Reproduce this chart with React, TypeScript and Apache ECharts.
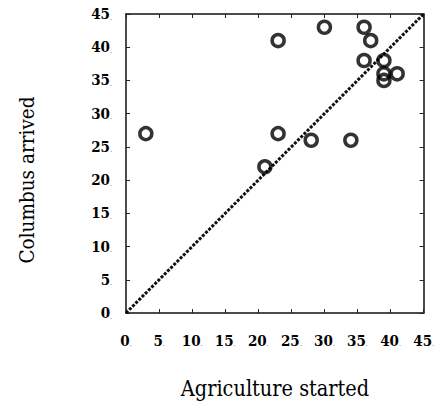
import React, { useEffect, useRef } from "react";
import * as echarts from "echarts";

const agricultureStarted = [3, 21, 23, 23, 28, 30, 34, 36, 37, 36, 39, 39, 39, 41];
const columbusArrived = [27, 22, 41, 27, 26, 43, 26, 43, 41, 38, 38, 36, 35, 36];
const axisMin = 0;
const axisMax = 45;
const axisStep = 5;
const xTitle = "Agriculture started";
const yTitle = "Columbus arrived";

export default function App() {
  const ref = useRef<HTMLDivElement>(null);
  useEffect(() => {
    if (!ref.current) return;
    const chart = echarts.init(ref.current, null, { renderer: "svg" });
    const font = "'DejaVu Serif Condensed', 'DejaVu Serif'";
    const fmt = (v: number) => `{n|${v}}{d|.}`;
    const rich = {
      n: { fontFamily: font, fontWeight: "bold", fontSize: 15, color: "#000" },
      d: { fontFamily: font, fontSize: 7, color: "#444", padding: [7, 0, 0, 0] },
    };
    const baseAxis = {
      type: "value",
      min: axisMin,
      max: axisMax,
      interval: axisStep,
      splitLine: { show: false },
      axisLine: { show: true, onZero: false, lineStyle: { color: "#111", width: 1.5 } },
      axisTick: { show: true, inside: true, length: 4, lineStyle: { color: "#222", width: 1 } },
    };
    const points = agricultureStarted.map((x, i) => [x, columbusArrived[i]]);
    chart.setOption({
      animation: false,
      backgroundColor: "#fff",
      textStyle: { fontFamily: font },
      grid: { left: 126, top: 14, width: 298, height: 299 },
      xAxis: [
        { ...baseAxis, position: "bottom", axisLabel: { formatter: fmt, rich, margin: 20, fontFamily: font } },
        { ...baseAxis, position: "top", axisLabel: { show: false } },
      ],
      yAxis: [
        { ...baseAxis, position: "left", axisLabel: { formatter: fmt, rich, margin: 14, fontFamily: font } },
        { ...baseAxis, position: "right", axisLabel: { show: false } },
      ],
      series: [
        {
          type: "line",
          data: [[axisMin, axisMin], [axisMax, axisMax]],
          symbol: "none",
          lineStyle: { color: "#111", width: 3, type: [3, 1.5] },
          z: 1,
        },
        {
          type: "scatter",
          data: points,
          symbol: "circle",
          symbolSize: 12,
          itemStyle: { color: "rgba(255,255,255,0)", borderColor: "#000", borderWidth: 3.5 },
          z: 3,
        },
      ],
      graphic: [
        {
          type: "text",
          x: 275,
          y: 388,
          style: {
            text: xTitle,
            fontFamily: font,
            fontSize: 21.5,
            fill: "#000",
            textAlign: "center",
            textVerticalAlign: "middle",
          },
        },
        {
          type: "text",
          x: 27,
          y: 180,
          rotation: Math.PI / 2,
          style: {
            text: yTitle,
            fontFamily: font,
            fontSize: 20.5,
            fill: "#000",
            textAlign: "center",
            textVerticalAlign: "middle",
          },
        },
      ],
    });
    return () => chart.dispose();
  }, []);
  return (
    <div
      ref={ref}
      style={{ position: "fixed", left: 0, top: 0, width: 437, height: 404 }}
    />
  );
}
